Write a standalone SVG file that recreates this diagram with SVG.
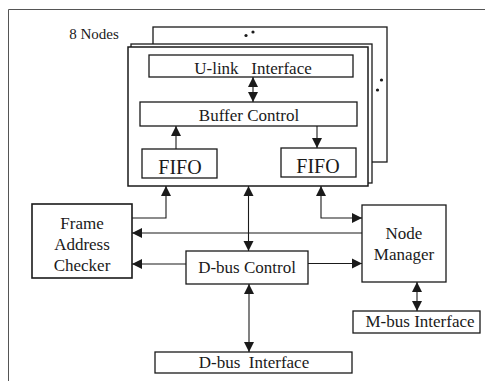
<svg xmlns="http://www.w3.org/2000/svg" width="485" height="381" viewBox="0 0 485 381">
<style>
.b{fill:#fff;stroke:#1a1a1a;stroke-width:1.3}
.t{font-family:"Liberation Serif","Times New Roman",serif;font-size:17px;fill:#1a1a1a;text-anchor:middle;white-space:pre}
.f{font-size:20px}
.c{fill:none;stroke:#1a1a1a;stroke-width:1.1}
</style>
<defs>
<marker id="ah" viewBox="0 0 10 10" refX="10" refY="5" markerWidth="10" markerHeight="11" markerUnits="userSpaceOnUse" orient="auto-start-reverse">
<path d="M0,0 L10,5 L0,10 Z" fill="#1a1a1a"/>
</marker>
</defs>
<rect width="485" height="381" fill="#fff"/>
<path d="M8.5,390 V9.5 H485" fill="none" stroke="#555" stroke-width="1"/>
<text class="t" x="94" y="39" style="font-size:15px">8 Nodes</text>
<g id="stack">
<rect class="b" x="153" y="27" width="234" height="135"/>
<circle cx="246" cy="35.5" r="1.6" fill="#1a1a1a"/>
<circle cx="253" cy="32" r="1.6" fill="#1a1a1a"/>
<circle cx="381.5" cy="80" r="1.6" fill="#1a1a1a"/>
<circle cx="377.5" cy="90" r="1.6" fill="#1a1a1a"/>
<rect class="b" x="131" y="44" width="241" height="139"/>
<rect class="b" x="128" y="47" width="240" height="139" style="stroke-width:1.5"/>
</g>
<g id="ulink">
<rect class="b" x="149" y="55" width="204" height="22"/>
<text class="t" x="253" y="74">U-link   Interface</text>
</g>
<g id="buffer">
<rect class="b" x="140" y="102" width="217" height="24"/>
<text class="t" x="249" y="121">Buffer Control</text>
</g>
<g id="fifo1">
<rect class="b" x="142" y="149" width="75" height="29"/>
<text class="t f" x="180" y="173.5">FIFO</text>
</g>
<g id="fifo2">
<rect class="b" x="281" y="148" width="75" height="29"/>
<text class="t f" x="318" y="172.5">FIFO</text>
</g>
<g id="fac">
<rect class="b" x="32" y="204" width="100" height="74" style="stroke-width:1.6"/>
<text class="t" x="82" y="229">Frame</text>
<text class="t" x="82" y="250">Address</text>
<text class="t" x="82" y="271">Checker</text>
</g>
<g id="nm">
<rect class="b" x="362" y="205" width="84" height="77"/>
<text class="t" x="404" y="239">Node</text>
<text class="t" x="404" y="260">Manager</text>
</g>
<g id="dbc">
<rect class="b" x="186" y="251" width="122" height="33"/>
<text class="t" x="247" y="273">D-bus Control</text>
</g>
<g id="mbus">
<rect class="b" x="353" y="311" width="127" height="22"/>
<text class="t" x="420" y="327">M-bus Interface</text>
</g>
<g id="dbi">
<rect class="b" x="155" y="352" width="197" height="21"/>
<text class="t" x="254" y="368">D-bus  Interface</text>
</g>
<g id="connectors">
<path class="c" d="M253,77 V102" marker-start="url(#ah)" marker-end="url(#ah)"/>
<path class="c" d="M176,149 V126" marker-end="url(#ah)"/>
<path class="c" d="M317,126 V148" marker-end="url(#ah)"/>
<path class="c" d="M132,218 H166 V186" marker-end="url(#ah)"/>
<path class="c" d="M248.5,186 V251" marker-start="url(#ah)" marker-end="url(#ah)"/>
<path class="c" d="M321,186 V218 H362" marker-start="url(#ah)" marker-end="url(#ah)"/>
<path class="c" d="M362,233 H132" marker-end="url(#ah)"/>
<path class="c" d="M186,264 H132" marker-end="url(#ah)"/>
<path class="c" d="M308,263.5 H362" marker-end="url(#ah)"/>
<path class="c" d="M249,284 V352" marker-start="url(#ah)" marker-end="url(#ah)"/>
<path class="c" d="M417,282 V311" marker-start="url(#ah)" marker-end="url(#ah)"/>
</g>
</svg>
